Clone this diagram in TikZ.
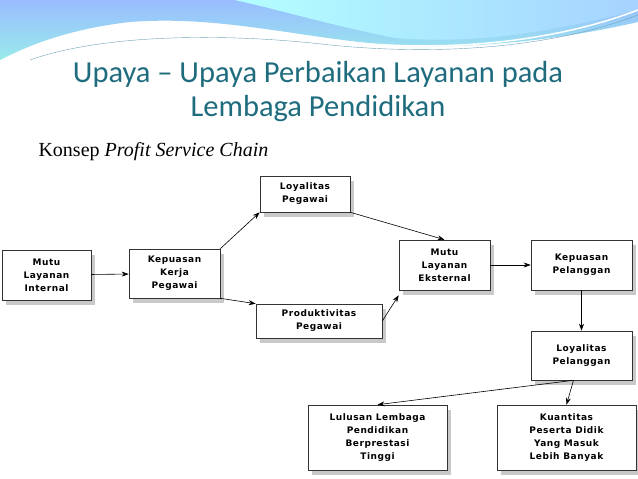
\documentclass[tikz,border=0pt]{standalone}
\usepackage{fontspec}
\setmainfont{Liberation Serif}
\newfontfamily\titlefont{Carlito}
\newfontfamily\boxfont[LetterSpace=6]{DejaVu Sans}
\usetikzlibrary{shadows,arrows.meta}
\definecolor{titlec}{HTML}{1E6C7E}
\tikzset{
 bx/.style={draw=black!80,line width=0.6pt,fill=white,align=center,font=\boxfont\bfseries\fontsize{9}{13}\selectfont,
   drop shadow={shadow xshift=4pt,shadow yshift=-5pt,fill=black!35,opacity=0.6},inner sep=0pt},
 ar/.style={-{Stealth[length=7pt,width=5pt]},line width=0.6pt}
}
\begin{document}
\begin{tikzpicture}[x=1pt,y=-1pt]
\useasboundingbox (0,0) rectangle (638,479);
\fill[white] (0,0) rectangle (638,479);
% header waves
\shade[top color=cyan!35!blue!40,bottom color=cyan!60!teal!40] (0,0) -- (638,0) -- (638,22) .. controls (560,40) and (470,50) .. (390,45) .. controls (300,38) and (220,15) .. (130,22) .. controls (60,30) and (20,50) .. (0,60) -- cycle;
\shade[left color=cyan!30!white,right color=cyan!50!blue!35] (235,0) -- (638,0) -- (638,10) .. controls (560,30) and (480,45) .. (395,38) .. controls (330,25) and (280,10) .. (235,0) -- cycle;
\draw[white,line width=1.5pt] (20,60) .. controls (90,30) and (220,25) .. (330,40) .. controls (450,55) and (560,40) .. (638,10);
\draw[cyan!40!gray,line width=0.4pt] (30,60) .. controls (100,35) and (220,32) .. (330,45) .. controls (450,57) and (560,45) .. (638,15);
% title
\node[font=\titlefont\fontsize{30.5}{34}\selectfont,text=titlec,align=center] (title) at (318,92) {Upaya – Upaya Perbaikan Layanan pada\\Lembaga Pendidikan};
\node[font=\fontsize{20}{22}\selectfont,anchor=west] (sub) at (35,152) {Konsep \textit{Profit Service Chain}};
% boxes
\node[bx,minimum width=89,minimum height=50] (mli) at (46.5,275) {Mutu\\Layanan\\Internal};
\node[bx,minimum width=91,minimum height=49] (kkp) at (174.5,273.5) {Kepuasan\\Kerja\\Pegawai};
\node[bx,minimum width=90,minimum height=36] (lp) at (305,194) {Loyalitas\\Pegawai};
\node[bx,minimum width=126,minimum height=34] (pp) at (319,321) {Produktivitas\\Pegawai};
\node[bx,minimum width=91,minimum height=50] (mle) at (444.5,265) {Mutu\\Layanan\\Eksternal};
\node[bx,minimum width=101,minimum height=50] (kpl) at (581.5,265) {Kepuasan\\Pelanggan};
\node[bx,minimum width=101,minimum height=49] (lpl) at (581.5,355.5) {Loyalitas\\Pelanggan};
\node[bx,minimum width=139,minimum height=65] (lul) at (377.5,437.5) {Lulusan Lembaga\\Pendidikan\\Berprestasi\\Tinggi};
\node[bx,minimum width=139,minimum height=65] (kua) at (566.5,437.5) {Kuantitas\\Peserta Didik\\Yang Masuk\\Lebih Banyak};
% arrows
\draw[ar] (mli) -- (kkp);
\draw[ar] (kkp.north east) -- (lp.south west);
\draw[ar] (kkp.south east) -- (pp.north west);
\draw[ar] (lp.south east) -- (mle.north);
\draw[ar] (pp.east) -- ([yshift=-5pt]mle.south west);
\draw[ar] (mle) -- (kpl);
\draw[ar] (kpl) -- (lpl);
\coordinate (split) at ([xshift=-8pt]lpl.south);
\draw[ar] (split) -- (lul.north);
\draw[ar] (split) -- (kua.north);
\end{tikzpicture}
\end{document}
